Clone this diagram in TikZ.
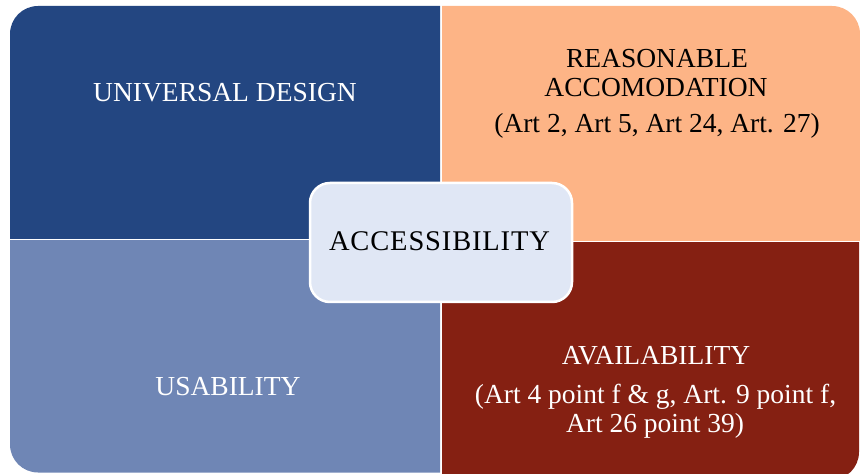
\documentclass[tikz,border=0pt]{standalone}
\usepackage{fontspec}
\setmainfont{Liberation Serif}
\definecolor{cTL}{HTML}{234681}
\definecolor{cTR}{HTML}{FDB486}
\definecolor{cBL}{HTML}{6F86B5}
\definecolor{cBR}{HTML}{852012}
\definecolor{cC}{HTML}{E0E7F5}
\begin{document}
\begin{tikzpicture}[x=1bp,y=-1bp,
  lbl/.style={font=\fontsize{27.5bp}{33bp}\selectfont, anchor=base, inner sep=0pt},
  quad/.style={rounded corners=28bp}]
\useasboundingbox (0,0) rectangle (860,474);
% top left
\begin{scope}
  \clip (10,6) rectangle (440,239);
  \fill[cTL, quad] (10,6) rectangle (520,320);
\end{scope}
% top right
\begin{scope}
  \clip (442,6) rectangle (860,241);
  \fill[cTR, quad] (360,6) rectangle (860,320);
\end{scope}
% bottom left
\begin{scope}
  \clip (10,241) rectangle (440,472.5);
  \fill[cBL, quad] (10,160) rectangle (520,472.5);
\end{scope}
% bottom right
\begin{scope}
  \clip (442,243) rectangle (860,474);
  \fill[cBR, quad] (360,160) rectangle (859,480);
\end{scope}
% center
\node[draw=white, line width=2.5bp, fill=cC, rounded corners=20bp,
      minimum width=262bp, minimum height=119bp, inner sep=0pt] (acc) at (441,242.5) {};
\node[lbl, font=\fontsize{28.5bp}{33bp}\selectfont] (acct) at (439.5,250.5) {\addfontfeatures{LetterSpace=3}ACCESSIBILITY};
% labels
\node[lbl, text=white] (ud) at (225,102) {UNIVERSAL DESIGN};
\node[lbl] (ra1) at (657,68) {REASONABLE};
\node[lbl] (ra2) at (656,97) {ACCOMODATION};
\node[lbl] (ra3) at (657,133) {(Art 2, Art 5, Art 24, Art. 27)};
\node[lbl, text=white] (us) at (228,395) {USABILITY};
\node[lbl, text=white] (av1) at (656,365) {AVAILABILITY};
\node[lbl, text=white] (av2) at (655.5,403) {(Art 4 point f \& g, Art. 9 point f,};
\node[lbl, text=white] (av3) at (655,432) {Art 26 point 39)};
\end{tikzpicture}
\end{document}
